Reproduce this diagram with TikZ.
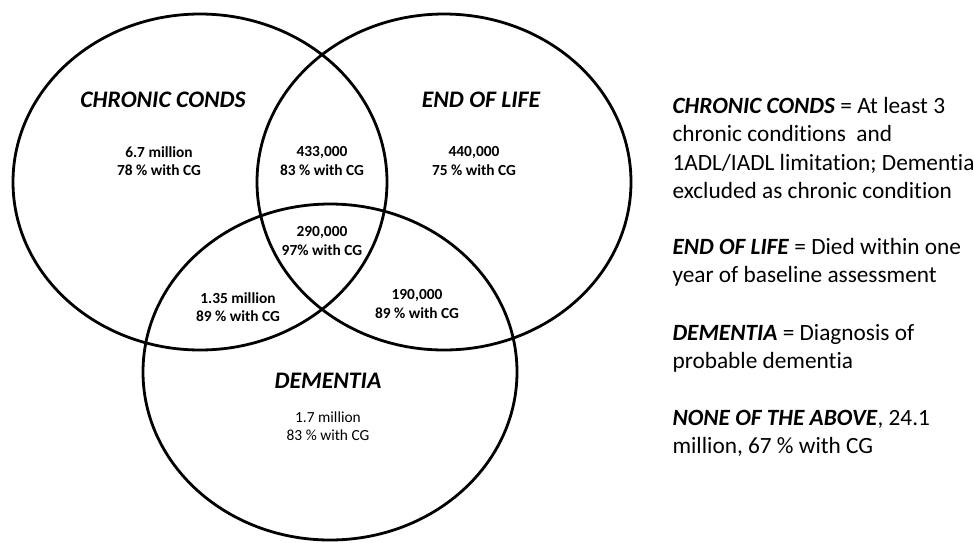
\documentclass[tikz,border=0pt]{standalone}
\usepackage{fontspec}
\setmainfont{Carlito}[Ligatures=NoCommon]
\usetikzlibrary{shapes.geometric,positioning}

\tikzset{
  setring/.style={draw, ellipse, line width=2.8pt, minimum width=374pt,
    minimum height=336pt, inner sep=0pt},
  setname/.style={font=\fontsize{23.7}{26}\selectfont\bfseries\itshape},
  count/.style={align=center, font=\fontsize{15.4}{18.5}\selectfont\bfseries},
  legend/.style={anchor=base west, align=left,
    font=\fontsize{23.3}{28.5}\selectfont},
}

\begin{document}
\begin{tikzpicture}[x=1pt,y=-1pt]
  \useasboundingbox (0,0) rectangle (974,542);
  % the three sets
  \node[setring] (chronic)  at (200,182) {};
  \node[setring] (endlife)  at (444,182) {};
  \node[setring] (dementia) at (330,372) {};
  % set names
  \node[setname] (chronicname)  at (163,100) {CHRONIC CONDS};
  \node[setname] (endlifename)  at (481,100) {END OF LIFE};
  \node[setname] (dementianame) at (328,381) {DEMENTIA};
  % counts
  \node[count] (onlychronic)  at (159,161) {6.7 million\\78 \% with CG};
  \node[count] (chronicend)   at (322,161) {433,000\\83 \% with CG};
  \node[count] (onlyend)      at (474,161) {440,000\\75 \% with CG};
  \node[count] (allthree)     at (322,241) {290,000\\97\% with CG};
  \node[count] (chronicdem)   at (238,307) {1.35 million\\89 \% with CG};
  \node[count] (enddem)       at (417,304) {190,000\\89 \% with CG};
  \node[count,font=\fontsize{15.4}{18.5}\selectfont] (onlydem) at (328,426)
    {1.7 million\\83 \% with CG};
  % legend (base = last line)
  \node[legend] (defchronic) at (669,198.5)
    {\textbf{\textit{CHRONIC CONDS}} = At least 3\\chronic conditions~ and\\
     1ADL/IADL limitation; Dementia\\excluded as chronic condition};
  \node[legend] (defend) at (669,282.5)
    {\textbf{\textit{END OF LIFE}} = Died within one\\year of baseline assessment};
  \node[legend] (defdem) at (669,368.5)
    {\textbf{\textit{DEMENTIA}} = Diagnosis of\\probable dementia};
  \node[legend] (defnone) at (669,453.5)
    {\textbf{\textit{NONE OF THE ABOVE}}, 24.1\\million, 67 \% with CG};
\end{tikzpicture}
\end{document}
